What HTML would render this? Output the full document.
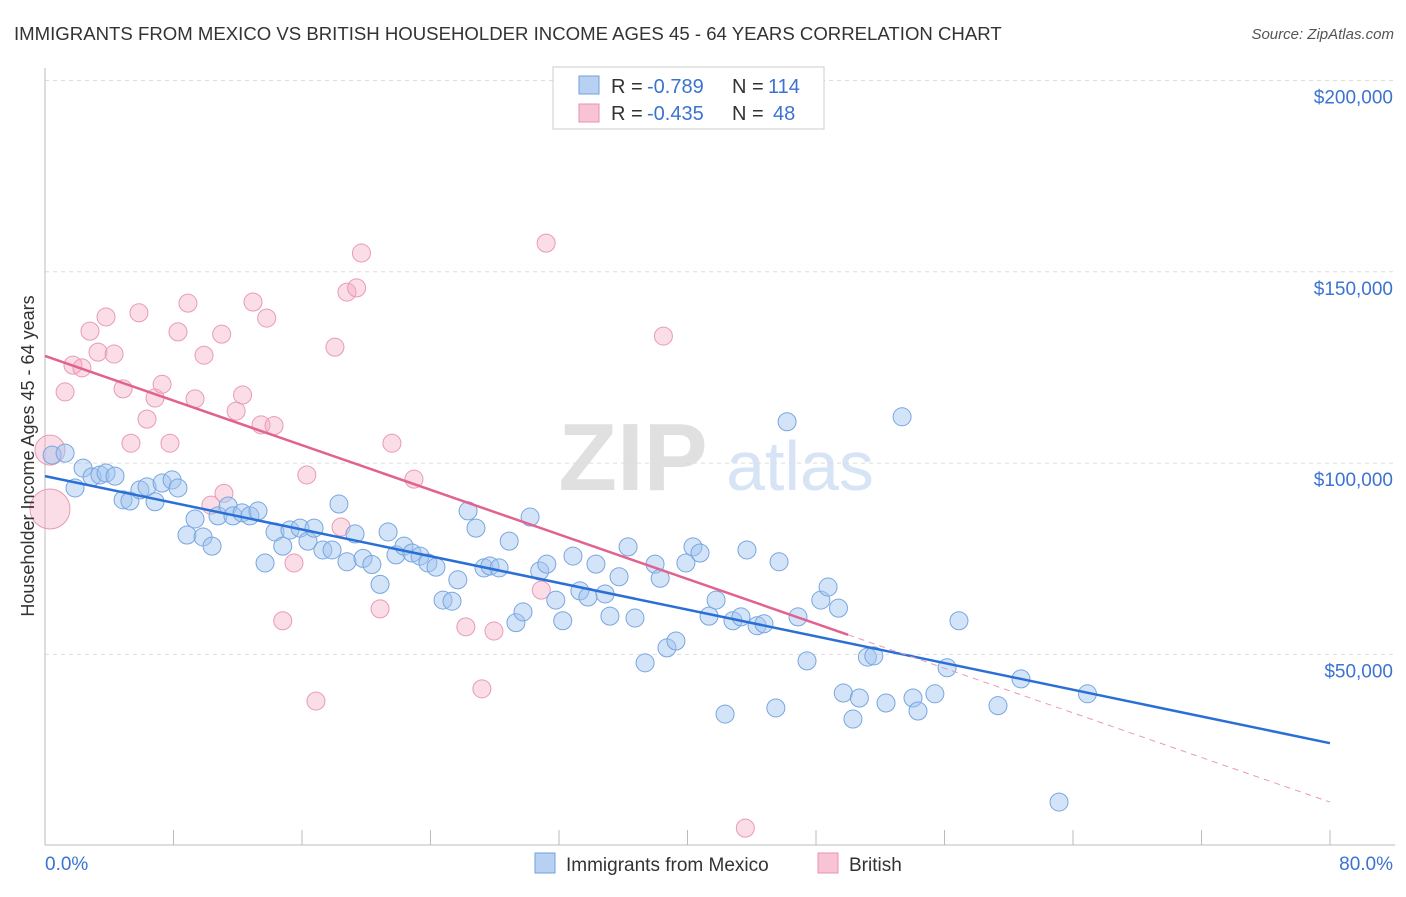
<!DOCTYPE html>
<html><head><meta charset="utf-8">
<style>
body{margin:0;background:#fff;font-family:"Liberation Sans",sans-serif;}
svg text{font-family:"Liberation Sans",sans-serif;}
</style></head>
<body>
<svg id="chart" width="1406" height="892" viewBox="0 0 1406 892" xmlns="http://www.w3.org/2000/svg">
<text x="14" y="40" font-size="18.6" fill="#333">IMMIGRANTS FROM MEXICO VS BRITISH HOUSEHOLDER INCOME AGES 45 - 64 YEARS CORRELATION CHART</text>
<text x="1394" y="39" font-size="15" fill="#555" text-anchor="end" font-style="italic">Source: ZipAtlas.com</text>
<g>
<text x="633" y="490" font-size="96" fill="#e0e0e0" text-anchor="middle" font-family="Liberation Serif" font-weight="bold">ZIP</text>
<text x="800" y="490" font-size="70" fill="#d6e4f5" text-anchor="middle">atlas</text>
</g>
<g id="grid"></g>
<g id="axes"></g>
<g id="marks"></g>
<text transform="translate(34,456) rotate(-90)" font-size="18" fill="#333" text-anchor="middle">Householder Income Ages 45 - 64 years</text>
<g>
<rect x="553" y="67" width="271" height="62" fill="#fff" stroke="#ccc"/>
<rect x="579" y="76" width="20" height="18" fill="#b8d1f3" stroke="#6fa0e0"/>
<text x="611" y="93" font-size="20" fill="#333">R =</text>
<text x="647" y="93" font-size="20" fill="#3b73d1">-0.789</text>
<text x="732" y="93" font-size="20" fill="#333">N =</text>
<text x="768" y="93" font-size="20" fill="#3b73d1">114</text>
<rect x="579" y="104" width="20" height="18" fill="#f8c3d4" stroke="#e890b0"/>
<text x="611" y="120" font-size="20" fill="#333">R =</text>
<text x="647" y="120" font-size="20" fill="#3b73d1">-0.435</text>
<text x="732" y="120" font-size="20" fill="#333">N =</text>
<text x="773" y="120" font-size="20" fill="#3b73d1">48</text>
</g>
<g>
<rect x="535" y="853" width="20" height="20" fill="#b8d1f3" stroke="#6fa0e0"/>
<text x="566" y="871" font-size="19" fill="#333">Immigrants from Mexico</text>
<rect x="818" y="853" width="20" height="20" fill="#f8c3d4" stroke="#e890b0"/>
<text x="849" y="871" font-size="19" fill="#333">British</text>
</g>
</svg>
<script>
const xTickLabels=["0.0%","80.0%"];
const yTicks=[50000,100000,150000,200000];
const yTickLabels=["$50,000","$100,000","$150,000","$200,000"];
const blueX=[0.44,1.25,1.87,2.37,2.93,3.42,3.8,4.36,4.86,5.29,5.91,6.35,6.85,7.29,7.91,8.28,8.84,9.34,9.84,10.4,10.77,11.4,11.7,12.27,12.76,13.26,13.7,14.32,14.8,15.25,15.88,16.37,16.75,17.3,17.87,18.3,18.8,19.3,19.8,20.35,20.86,21.36,21.85,22.35,22.85,23.35,23.84,24.34,24.78,25.34,25.7,26.34,26.83,27.33,27.7,28.27,28.9,29.32,29.76,30.2,30.8,31.24,31.8,32.23,32.87,33.3,33.8,34.3,34.87,35.17,35.74,36.3,36.73,37.36,37.98,38.3,38.72,39.28,39.9,40.34,40.78,41.34,41.78,42.34,42.83,43.33,43.7,44.33,44.76,45.5,45.7,46.2,46.88,47.44,48.3,48.75,49.4,49.7,50.3,50.7,51.2,51.6,52.36,53.36,54.04,54.35,55.4,56.16,56.9,59.33,60.76,63.13,64.9];
const blueY=[102.1,102.6,93.5,98.7,96.4,96.9,97.4,96.6,90.4,90.1,93.0,93.8,89.9,94.8,95.6,93.5,81.2,85.4,80.7,78.3,86.2,88.8,86.2,87.0,86.2,87.5,73.9,82.0,78.3,82.5,83.0,79.6,83.0,77.3,77.3,89.3,74.2,81.5,75.1,73.5,68.3,82.0,76.0,78.3,76.5,75.7,73.9,72.8,64.2,63.9,69.5,87.5,83.0,72.6,73.1,72.6,79.6,58.3,61.1,85.9,71.8,73.6,64.2,58.8,75.7,66.6,65.0,73.6,65.8,60.0,70.3,78.1,59.5,47.8,73.6,69.9,51.7,53.5,73.9,78.1,76.5,60.0,64.2,34.4,58.8,59.8,77.3,57.5,58.0,36.0,74.2,110.8,59.8,48.3,64.2,67.6,62.1,39.9,33.1,38.6,49.3,49.6,37.3,112.1,38.6,35.2,39.7,46.5,58.8,36.6,43.6,11.4,39.7];
const pinkX=[0.31,0.31,1.25,1.74,2.3,2.8,3.3,3.8,4.3,4.86,5.35,5.85,6.35,6.85,7.29,7.78,8.28,8.9,9.34,9.9,10.33,11.0,11.14,11.9,12.3,12.95,13.45,13.8,14.26,14.8,15.5,16.3,16.87,18.05,18.43,18.8,19.4,19.7,20.86,21.6,22.97,26.2,27.2,27.95,30.9,31.2,38.5,43.6];
const pinkY=[103.4,88.0,118.6,125.6,124.9,134.5,129.0,138.2,128.5,119.4,105.2,139.3,111.5,117.0,120.6,105.2,134.3,141.8,116.8,128.2,89.0,133.7,92.1,113.6,117.8,142.1,110.0,137.9,109.8,58.8,73.9,96.9,37.8,130.3,83.3,144.7,145.8,154.9,61.9,105.2,95.8,57.2,41.0,56.1,66.8,157.5,133.2,4.6];
const pinkR=[15,20];
const blueTrend=[96.6,26.8];
const pinkTrend=[128.0,11.4];
const pinkSolidEnd=50;

const NS="http://www.w3.org/2000/svg";
const X=v=>45+v/80*1285;
const Y=v=>845.7-v/50*191.3;
function mk(tag,attrs,parent){const e=document.createElementNS(NS,tag);for(const k in attrs)e.setAttribute(k,attrs[k]);parent.appendChild(e);return e;}
const grid=document.getElementById('grid'),axes=document.getElementById('axes'),marks=document.getElementById('marks');
yTicks.forEach((t,i)=>{
 const l=mk('line',{x1:45,x2:1395,y1:Y(t/1000),y2:Y(t/1000),stroke:'#ddd','stroke-dasharray':'4,4'},grid);
 
 
 const tx=mk('text',{x:1393,y:Y(t/1000)+23,'font-size':19,fill:'#3b73d1','text-anchor':'end'},grid);
 tx.textContent=yTickLabels[i];
 
 
});
const ax=mk('line',{x1:45,x2:45,y1:68,y2:845,stroke:'#bbb'},axes);


const bx=mk('line',{x1:45,x2:1395,y1:845,y2:845,stroke:'#bbb'},axes);


for(let p=0;p<=80;p+=8){
 const t=mk('line',{x1:X(p),x2:X(p),y1:830,y2:845,stroke:'#bbb'},axes);
 
 
}
[[0,'start',45],[80,'end',1393]].forEach((d,i)=>{
 const t=mk('text',{x:d[2],y:870,'font-size':19,fill:'#3b73d1','text-anchor':d[1]},axes);
 t.textContent=xTickLabels[i];
 
 
});
pinkX.forEach((x,i)=>{
 const c=mk('circle',{cx:X(x),cy:Y(pinkY[i]),r:pinkR[i]||9,fill:'rgba(246,170,196,0.4)',stroke:'#e99ab6','stroke-width':1},marks);
 
 
});
blueX.forEach((x,i)=>{
 const c=mk('circle',{cx:X(x),cy:Y(blueY[i]),r:9,fill:'rgba(160,196,240,0.45)',stroke:'#78a6e0','stroke-width':1},marks);
 
 
});
const bt=mk('line',{x1:X(0),y1:Y(blueTrend[0]),x2:X(80),y2:Y(blueTrend[1]),stroke:'#2a6fd6','stroke-width':2.5},marks);


const pAt=p=>pinkTrend[0]+(pinkTrend[1]-pinkTrend[0])*p/80;
const ps=mk('line',{x1:X(0),y1:Y(pAt(0)),x2:X(pinkSolidEnd),y2:Y(pAt(pinkSolidEnd)),stroke:'#e2628f','stroke-width':2.5},marks);


const pd=mk('line',{x1:X(pinkSolidEnd),y1:Y(pAt(pinkSolidEnd)),x2:X(80),y2:Y(pAt(80)),stroke:'#e99ab6','stroke-width':1,'stroke-dasharray':'6,5'},marks);


</script>
</body></html>
